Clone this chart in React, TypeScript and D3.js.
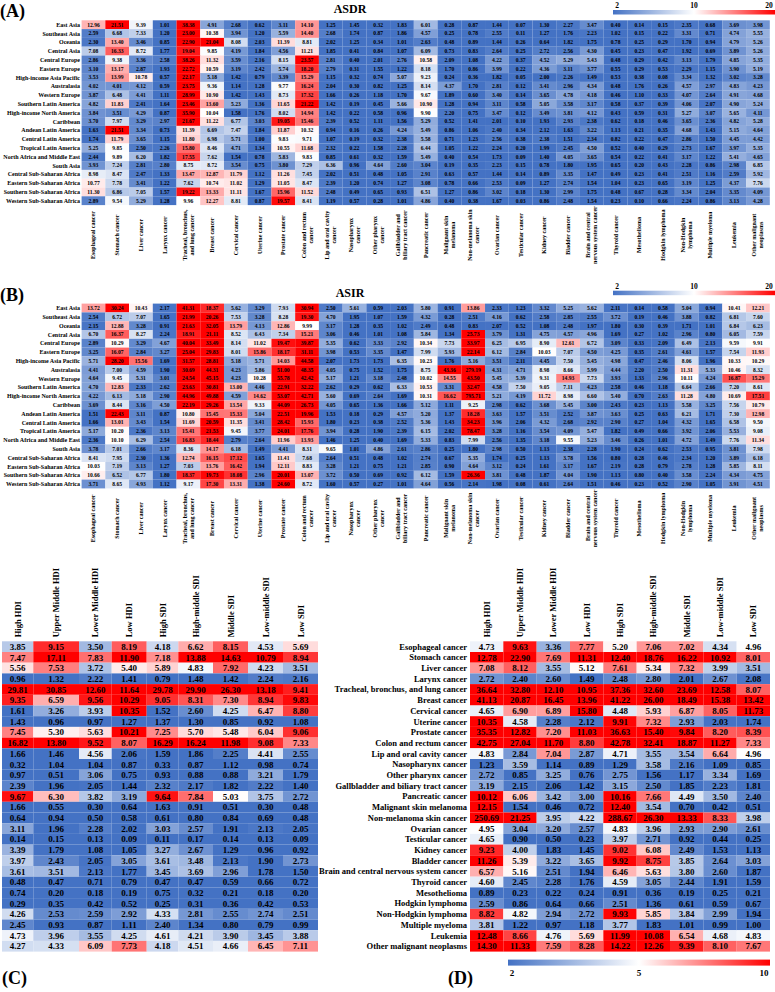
import React from "react";
import * as d3 from "d3";

const regions = ["East Asia","Southeast Asia","Oceania","Central Asia","Central Europe","Eastern Europe","High-income Asia Pacific","Australasia","Western Europe","Southern Latin America","High-income North America","Caribbean","Andean Latin America","Central Latin America","Tropical Latin America","North Africa and Middle East","South Asia","Central Sub-Saharan Africa","Eastern Sub-Saharan Africa","Southern Sub-Saharan Africa","Western Sub-Saharan Africa"];

const cancers = ["Esophageal cancer","Stomach cancer","Liver cancer","Larynx cancer","Tracheal, bronchus, and lung cancer","Breast cancer","Cervical cancer","Uterine cancer","Prostate cancer","Colon and rectum cancer","Lip and oral cavity cancer","Nasopharynx cancer","Other pharynx cancer","Gallbladder and biliary tract cancer","Pancreatic cancer","Malignant skin melanoma","Non-melanoma skin cancer","Ovarian cancer","Testicular cancer","Kidney cancer","Bladder cancer","Brain and central nervous system cancer","Thyroid cancer","Mesothelioma","Hodgkin lymphoma","Non-Hodgkin lymphoma","Multiple myeloma","Leukemia","Other malignant neoplasms"];

const cancerLabelLines = [["Esophageal cancer"],["Stomach cancer"],["Liver cancer"],["Larynx cancer"],["Tracheal, bronchus,","and lung cancer"],["Breast cancer"],["Cervical cancer"],["Uterine cancer"],["Prostate cancer"],["Colon and rectum","cancer"],["Lip and oral cavity","cancer"],["Nasopharynx","cancer"],["Other pharynx","cancer"],["Gallbladder and","biliary tract cancer"],["Pancreatic cancer"],["Malignant skin","melanoma"],["Non-melanoma skin","cancer"],["Ovarian cancer"],["Testicular cancer"],["Kidney cancer"],["Bladder cancer"],["Brain and central","nervous system cancer"],["Thyroid cancer"],["Mesothelioma"],["Hodgkin lymphoma"],["Non-Hodgkin","lymphoma"],["Multiple myeloma"],["Leukemia"],["Other malignant","neoplasms"]];

const groups = ["High HDI","Upper Middle HDI","Lower Middle HDI","Low HDI","High SDI","High-middle SDI","Middle SDI","Low-middle SDI","Low SDI"];

const asdrRegion = [
[12.96,21.51,9.39,1.01,38.38,4.91,2.68,0.62,3.11,14.10,1.25,1.45,0.32,1.83,6.01,0.28,0.87,1.44,0.07,1.30,2.27,3.47,0.40,0.14,0.15,2.35,0.68,3.69,3.98],
[2.59,6.68,7.33,1.20,23.00,10.38,3.94,1.20,5.59,14.40,2.68,1.74,0.87,1.86,4.57,0.25,0.78,2.55,0.11,1.27,1.76,2.23,1.02,0.15,0.22,3.31,0.71,4.74,5.55],
[2.30,13.40,3.46,0.85,22.90,21.04,8.08,2.03,11.39,8.81,2.02,1.25,0.34,1.01,2.63,0.48,0.89,1.44,0.26,0.64,1.82,1.75,0.78,0.25,0.29,1.70,0.94,4.79,5.26],
[7.08,16.33,8.72,1.77,19.04,9.85,4.19,1.84,4.56,11.21,1.85,0.41,0.84,1.07,6.09,0.73,0.83,2.64,0.25,2.72,2.56,4.30,0.45,0.23,0.47,1.92,0.69,3.89,5.26],
[2.86,9.38,3.36,2.58,38.26,11.32,3.59,2.16,8.15,23.57,2.81,0.40,2.01,2.76,10.58,2.09,1.08,4.22,0.37,4.52,5.29,5.43,0.48,0.29,0.42,3.13,1.79,4.85,5.35],
[3.10,13.17,2.87,1.93,22.72,10.59,3.19,2.42,5.74,18.20,2.79,0.31,1.55,1.22,8.18,1.70,0.86,3.99,0.22,4.36,3.11,3.77,0.55,0.29,0.53,2.29,1.15,3.90,5.19],
[3.53,13.99,10.78,0.57,22.17,5.18,1.42,0.79,3.39,15.29,1.15,0.32,0.74,5.07,9.23,0.24,0.36,1.82,0.05,2.00,2.26,1.49,0.53,0.38,0.08,3.34,1.32,3.02,3.28],
[4.02,4.01,4.12,0.59,23.75,9.36,1.14,1.28,9.77,16.24,2.04,0.30,0.82,1.25,8.14,4.37,1.70,2.81,0.12,3.41,2.96,4.34,0.48,1.76,0.26,4.57,2.97,4.83,4.23],
[3.87,6.48,4.41,1.11,28.99,10.90,1.42,1.43,8.73,17.32,1.66,0.26,1.18,1.70,9.67,1.89,0.60,3.40,0.14,3.65,4.78,4.18,0.46,1.10,0.33,4.07,2.64,4.91,4.68],
[4.82,11.83,2.41,1.64,23.46,13.60,5.23,1.36,11.65,21.22,1.42,0.19,0.45,5.66,10.90,1.28,0.94,3.11,0.58,5.05,3.58,3.17,0.58,0.37,0.39,4.06,2.07,4.90,5.24],
[3.84,3.51,4.29,0.87,35.90,10.04,1.58,1.76,8.02,14.94,1.42,0.22,0.58,0.96,9.90,2.20,0.75,3.47,0.12,3.49,3.81,4.12,0.43,0.59,0.31,5.27,3.07,5.65,4.11],
[3.70,7.97,3.29,2.97,21.67,11.22,6.77,3.03,19.05,15.46,2.39,0.52,1.11,1.56,5.29,0.52,1.41,2.01,0.10,1.93,2.93,2.38,0.62,0.18,0.46,3.65,2.36,4.82,5.28],
[1.63,21.51,3.34,0.73,11.39,6.69,7.47,1.84,11.87,10.32,0.94,0.16,0.26,4.24,5.49,0.86,1.06,2.40,0.34,2.12,1.63,3.22,1.13,0.21,0.35,4.68,1.43,5.15,4.64],
[1.74,11.79,3.65,1.15,11.80,6.98,5.71,1.00,9.83,9.71,1.07,0.19,0.32,2.38,5.58,0.71,1.23,2.56,0.38,2.38,1.51,2.34,0.82,0.22,0.47,2.86,1.50,4.45,4.42],
[5.25,9.85,2.50,2.26,15.80,8.46,4.71,1.34,10.55,11.68,2.32,0.22,1.58,2.28,6.44,1.05,1.22,2.24,0.20,1.99,2.45,4.50,0.52,0.40,0.29,2.73,1.67,3.97,5.35],
[2.44,9.89,6.20,1.82,17.55,7.62,1.54,0.78,5.83,9.83,0.85,0.61,0.32,1.59,5.49,0.40,0.54,1.73,0.09,1.40,4.05,3.65,0.54,0.22,0.41,3.17,1.22,5.41,4.65],
[3.93,7.24,2.81,2.80,8.75,8.72,3.54,0.75,3.80,7.29,6.36,0.96,4.64,2.60,3.04,0.19,0.35,2.23,0.15,0.78,1.80,1.95,0.65,0.20,0.43,2.28,0.86,2.98,6.85],
[8.98,8.47,2.47,1.33,13.47,12.87,11.79,1.12,11.26,7.45,2.02,0.51,0.48,1.05,2.91,0.63,0.57,1.44,0.14,0.89,3.35,1.47,0.49,0.23,0.41,2.51,1.16,2.59,5.92],
[10.77,7.78,3.41,1.22,7.62,10.74,11.02,1.29,11.05,8.47,2.39,1.20,0.74,1.27,3.08,0.78,0.66,2.53,0.09,1.27,2.74,1.54,1.04,0.23,0.65,3.19,1.25,4.37,7.76],
[11.30,6.86,7.05,1.57,19.22,13.33,11.11,1.67,15.96,11.52,2.48,0.49,0.65,0.93,6.51,1.27,0.86,3.02,0.18,1.30,2.99,1.75,0.48,0.67,0.28,3.34,2.04,3.35,4.09],
[2.89,9.54,5.29,1.28,9.96,12.27,8.81,0.87,19.57,8.41,1.19,0.57,0.28,1.01,4.86,0.40,0.38,1.67,0.03,0.86,2.48,1.54,0.23,0.10,0.66,2.24,0.86,3.13,4.28]
];

const asirRegion = [
[13.72,30.24,10.43,2.17,41.31,18.37,5.62,3.29,7.93,30.94,2.50,5.61,0.59,2.03,5.80,0.91,13.86,2.33,1.23,3.32,5.25,5.62,2.11,0.14,0.58,5.04,0.94,10.41,12.21],
[2.54,6.72,7.07,1.65,21.99,20.26,7.53,3.28,8.28,19.30,4.70,1.95,1.07,1.59,4.32,0.28,2.51,4.16,0.62,2.58,2.85,2.55,3.72,0.19,0.46,3.88,0.82,6.81,7.60],
[2.15,12.88,3.28,0.91,21.63,32.05,13.79,4.13,12.86,9.99,3.17,1.28,0.35,1.02,2.49,0.48,0.83,2.07,0.52,1.08,2.48,1.97,1.80,0.30,0.39,1.71,1.01,6.84,6.23],
[6.70,16.37,8.27,2.24,18.91,21.11,8.52,6.43,7.34,15.21,3.06,0.46,1.01,1.08,5.84,1.34,25.73,3.79,1.31,4.75,4.57,4.96,1.69,0.27,1.02,2.96,0.80,6.05,7.59],
[2.89,10.29,3.29,4.67,40.04,33.49,8.14,11.02,19.47,39.87,5.35,0.62,3.33,2.92,10.34,7.73,33.97,6.25,6.95,8.90,12.61,6.72,3.09,0.33,2.09,6.49,2.13,9.59,9.91],
[3.25,16.07,2.84,3.27,25.04,29.83,8.01,15.86,18.17,31.11,3.98,0.53,3.35,1.47,7.99,5.93,22.14,6.12,2.84,10.03,7.07,4.50,4.25,0.35,2.61,4.61,1.57,7.54,11.93],
[5.71,28.20,15.56,1.69,31.57,28.81,5.18,5.71,14.03,44.58,2.07,1.73,1.73,6.35,10.23,1.76,5.16,3.51,2.11,4.45,7.50,5.45,4.98,0.47,2.46,8.06,1.96,10.33,10.29],
[4.41,7.00,4.59,1.90,30.69,44.31,4.23,5.86,51.00,48.35,4.05,0.75,1.52,1.75,8.75,43.36,279.19,4.31,4.71,8.98,8.66,5.99,4.44,2.20,2.50,11.31,5.33,10.46,8.32],
[4.64,9.45,5.31,3.01,24.54,45.15,4.23,10.28,55.78,42.42,5.17,1.21,3.18,2.48,10.02,14.55,43.50,5.45,5.39,9.31,14.93,7.73,3.93,1.33,2.96,10.11,4.24,16.87,15.29],
[4.70,12.83,2.33,2.62,23.63,30.81,13.00,4.46,22.91,32.22,2.62,0.29,0.62,6.33,10.53,3.31,32.47,4.58,7.50,9.05,7.11,4.23,2.58,0.46,1.18,6.64,2.66,7.20,8.61],
[4.22,6.13,5.18,2.90,44.96,49.88,4.59,14.62,53.07,42.71,5.60,0.69,2.64,1.69,10.31,16.62,795.71,5.21,4.19,11.72,8.98,6.60,5.40,0.70,2.63,11.28,4.80,10.69,17.51],
[3.69,8.44,3.16,4.50,22.19,29.26,13.54,9.33,44.09,26.73,4.05,0.65,1.36,1.66,5.12,1.11,9.25,2.98,0.62,3.68,5.45,3.00,2.43,0.23,1.13,5.58,3.25,7.56,10.79],
[1.51,22.43,3.11,0.87,10.80,15.45,15.33,5.04,22.51,19.96,1.53,0.18,0.29,4.57,5.20,1.37,18.28,3.63,1.57,3.51,2.52,3.87,3.63,0.25,0.63,6.21,1.71,7.30,12.98],
[1.66,13.01,3.43,1.54,11.69,20.59,11.35,3.41,28.42,15.93,1.80,0.23,0.38,2.52,5.36,1.43,34.23,3.96,2.06,4.32,2.68,2.92,2.90,0.27,1.04,4.32,1.65,6.58,9.50],
[5.17,10.20,2.36,3.13,15.41,21.53,9.45,3.77,24.01,17.76,3.94,0.28,1.90,2.39,6.15,2.02,78.47,3.28,1.16,3.54,4.09,5.47,1.82,0.49,0.66,3.92,2.06,5.53,9.08],
[2.36,10.10,6.29,2.54,16.83,18.44,2.79,2.64,11.96,13.93,1.46,1.25,0.40,1.69,5.33,0.83,7.99,2.56,1.35,3.18,9.55,5.23,3.46,0.26,1.01,4.72,1.49,7.76,11.34],
[3.78,7.01,2.66,3.17,8.36,14.17,6.18,1.49,4.41,8.31,9.65,1.01,4.86,2.61,2.86,0.25,1.80,2.98,0.50,1.13,2.38,2.28,1.90,0.24,0.62,2.53,0.95,3.81,7.98],
[8.41,7.95,2.30,1.36,12.74,16.15,17.12,1.65,11.41,7.68,2.64,0.51,0.48,1.02,2.74,0.67,5.35,1.74,0.25,1.13,3.78,1.56,0.80,0.28,0.46,2.34,1.20,3.89,6.18],
[10.03,7.19,3.13,1.27,7.03,13.76,16.42,1.94,12.11,8.83,3.28,1.21,0.75,1.21,2.85,0.90,4.64,3.12,0.24,1.61,3.17,1.67,2.19,0.28,0.79,2.78,1.28,5.85,8.11],
[10.66,6.52,6.77,1.80,18.37,19.73,18.08,2.96,20.01,13.07,3.72,0.50,0.69,0.92,6.12,1.59,26.36,3.81,0.48,1.87,4.04,1.90,1.13,0.80,0.40,3.58,2.24,4.34,4.75],
[3.71,8.65,4.93,1.12,9.17,17.30,13.31,1.38,24.60,8.72,1.60,0.57,0.27,1.01,4.64,0.56,2.14,1.98,0.08,0.61,2.64,1.51,0.46,0.23,0.52,2.90,1.05,3.91,4.51]
];

const asdrGroup = [
[3.85,9.15,3.50,8.19,4.18,6.62,8.15,4.53,5.69],
[7.47,17.11,7.83,11.90,7.18,13.88,14.63,10.79,8.94],
[5.56,7.53,3.72,5.40,5.89,4.83,7.92,4.23,3.51],
[0.96,1.32,2.22,1.41,0.79,1.48,1.42,2.24,2.16],
[29.81,30.85,12.60,11.64,29.78,29.90,26.30,13.18,9.41],
[9.35,6.59,9.56,10.29,9.05,8.31,7.30,8.94,9.83],
[1.61,3.26,3.93,10.35,1.52,2.60,4.25,6.47,8.80],
[1.43,0.96,0.97,1.27,1.37,1.30,0.85,0.92,1.08],
[7.45,5.30,5.63,10.21,7.25,5.70,5.48,6.04,9.06],
[16.82,13.80,9.52,8.07,16.29,16.24,11.98,9.08,7.33],
[1.66,1.46,4.56,2.06,1.59,1.86,2.25,4.41,2.55],
[0.32,1.04,1.04,0.87,0.33,0.87,1.12,0.98,0.74],
[0.97,0.51,3.06,0.75,0.93,0.88,0.88,3.21,1.79],
[2.39,1.96,2.05,1.44,2.32,2.17,1.82,2.22,1.40],
[9.67,6.30,3.82,3.19,9.64,7.84,5.03,3.75,2.72],
[1.66,0.55,0.30,0.64,1.63,0.91,0.51,0.30,0.48],
[0.64,0.94,0.50,0.58,0.61,0.80,0.84,0.69,0.48],
[3.11,1.96,2.28,2.02,3.03,2.57,1.91,2.13,2.05],
[0.14,0.15,0.13,0.09,0.11,0.17,0.14,0.13,0.09],
[3.39,1.79,1.08,1.05,3.27,2.67,1.29,0.96,0.92],
[3.97,2.43,2.05,3.05,3.61,3.48,2.13,1.90,2.73],
[3.61,3.51,2.13,1.77,3.45,3.69,2.96,1.78,1.50],
[0.48,0.47,0.71,0.79,0.47,0.47,0.59,0.66,0.72],
[0.74,0.20,0.18,0.19,0.75,0.32,0.21,0.18,0.20],
[0.29,0.35,0.42,0.52,0.25,0.31,0.36,0.42,0.53],
[4.26,2.53,2.59,2.92,4.33,2.81,2.55,2.74,2.51],
[2.45,0.93,0.87,1.11,2.40,1.34,0.80,0.79,0.99],
[4.73,3.96,3.55,4.25,4.61,4.21,3.90,3.45,3.88],
[4.27,4.33,6.09,7.73,4.18,4.51,4.66,6.45,7.11]
];

const asirGroup = [
[4.73,9.63,3.36,7.77,5.20,7.06,7.02,4.34,4.96],
[12.78,22.90,7.69,11.31,12.40,18.76,16.22,10.92,8.01],
[7.08,8.12,3.55,5.12,7.61,5.34,7.32,3.99,3.51],
[2.72,2.40,2.60,1.49,2.48,2.80,2.01,2.67,2.08],
[36.64,32.80,12.10,10.95,37.36,32.60,23.69,12.58,8.07],
[41.13,20.87,16.45,13.96,41.22,26.00,18.49,15.38,13.42],
[4.65,6.90,6.89,15.80,4.48,5.93,6.87,8.05,11.73],
[10.35,4.58,2.28,2.12,9.91,7.32,2.93,2.03,1.74],
[35.35,12.82,7.20,11.03,36.63,15.40,9.84,8.20,8.39],
[42.75,27.04,11.70,8.80,42.78,32.41,18.87,11.27,7.33],
[4.83,2.84,7.04,2.87,4.71,3.55,3.54,6.64,4.96],
[1.23,3.59,1.14,0.89,1.29,3.58,2.16,1.09,0.85],
[2.72,0.85,3.25,0.76,2.75,1.56,1.17,3.34,1.69],
[3.19,2.15,2.06,1.42,3.15,2.50,1.85,2.23,1.81],
[10.12,6.06,3.42,3.00,10.16,7.66,4.49,3.50,2.40],
[12.15,1.54,0.46,0.72,12.40,3.54,0.70,0.42,0.51],
[250.69,21.25,3.95,4.22,288.67,26.30,13.33,8.33,3.98],
[4.95,3.04,3.20,2.57,4.83,3.96,2.93,2.90,2.61],
[4.65,0.90,0.50,0.23,3.97,2.71,0.92,0.44,0.25],
[9.23,4.00,1.83,1.45,9.02,6.08,2.49,1.53,1.13],
[11.26,5.39,3.22,3.65,9.92,8.75,3.85,2.64,3.03],
[6.57,5.16,2.51,1.94,6.46,5.63,3.80,2.60,1.87],
[4.60,2.45,2.28,1.76,4.59,3.05,2.44,1.91,1.59],
[0.89,0.23,0.22,0.24,0.91,0.36,0.19,0.25,0.21],
[2.59,0.86,0.64,0.66,2.51,1.36,0.61,0.59,0.67],
[8.82,4.82,2.94,2.72,9.93,5.85,3.84,2.99,1.94],
[3.81,1.22,0.97,1.18,3.77,1.83,1.01,0.99,1.00],
[12.48,8.66,4.76,5.69,11.99,10.08,6.54,4.68,4.83],
[14.30,11.33,7.59,8.28,14.22,12.26,9.39,8.10,7.67]
];

const ticksAB = [2, 10, 20];
const ticksCD = [2, 5, 10];

const FONT = "'Liberation Serif', 'Times New Roman', serif";
const BLUE = "#4472C4";
const RED = "#FF0000";

const colorAB = d3.scaleLinear<string>().domain(ticksAB).range([BLUE, "#FFFFFF", RED]).clamp(true);
const colorCD = d3.scaleLinear<string>().domain(ticksCD).range([BLUE, "#FFFFFF", RED]).clamp(true);

function Grid({ data, x, y, color, fs }) {
  return (
    <g>
      {data.map((row, i) =>
        row.map((v, j) => {
          const x0 = x(j), x1 = x(j + 1);
          return (
            <g key={i + "-" + j}>
              <rect x={x0} y={y(i)} width={x1 - x0} height={y.bandwidth()} fill={color(v)} />
              <text x={(x0 + x1) / 2} y={y(i) + y.bandwidth() / 2} dy="0.35em" textAnchor="middle"
                fontSize={fs} fontWeight="bold" fontFamily={FONT} fill="#000">{v.toFixed(2)}</text>
            </g>
          );
        })
      )}
    </g>
  );
}

function ColorBar({ id, x0, x1, y, h, scale, ticks, fs, labelY }) {
  const pos = d3.scaleLinear().domain([0, ticks.length - 1]).range([x0, x1]);
  return (
    <g>
      <defs>
        <linearGradient id={id} x1="0" x2="1" y1="0" y2="0">
          {ticks.map((t, i) => (
            <stop key={i} offset={i / (ticks.length - 1)} stopColor={scale(t)} />
          ))}
        </linearGradient>
      </defs>
      <rect x={x0} y={y} width={x1 - x0} height={h} fill={`url(#${id})`} />
      {ticks.map((t, i) => (
        <text key={i} x={pos(i) + (i === 0 ? 4 : i === ticks.length - 1 ? -6 : 0)} y={labelY} textAnchor="middle"
          fontSize={fs} fontWeight="bold" fontFamily={FONT}>{t}</text>
      ))}
    </g>
  );
}

function RegionPanel({ data, top, title, tag, gid, barY }) {
  const x = d3.scaleLinear().domain([0, cancers.length]).range([81.6, 769.8]);
  const y = d3.scaleBand().domain(d3.range(regions.length)).range([top, top + regions.length * 8.8]);
  const bottom = top + regions.length * 8.8;
  return (
    <g>
      <text x={0} y={top - 3} fontSize={18} fontWeight="bold" fontFamily={FONT}>{tag}</text>
      <text x={350} y={top - 7} textAnchor="middle" fontSize={12} fontWeight="bold" fontFamily={FONT}>{title}</text>
      <ColorBar id={gid} x0={613} x1={775} y={barY} h={4.5} scale={colorAB} ticks={ticksAB} fs={7.5} labelY={barY - 2} />
      {regions.map((r, i) => (
        <text key={r} x={80} y={y(i) + y.bandwidth() / 2} dy="0.35em" textAnchor="end" fontSize={6}
          fontWeight="bold" fontFamily={FONT}>{r}</text>
      ))}
      <Grid data={data} x={x} y={y} color={colorAB} fs={5.6} />
      {cancerLabelLines.map((lines, j) => {
        const cx = (x(j) + x(j + 1)) / 2;
        const cy = bottom + 30;
        return (
          <text key={j} transform={`translate(${cx},${cy}) rotate(-90)`} textAnchor="middle" fontSize={6}
            fontWeight="bold" fontFamily={FONT}>
            {lines.map((l, k) => (
              <tspan key={k} x={0} y={(k - (lines.length - 1) / 2) * 7 + 2}>{l}</tspan>
            ))}
          </text>
        );
      })}
    </g>
  );
}

const cEdges = [2, 33.3, 79, 111.7, 146.7, 178.3, 213, 248, 283, 318];

export default function App() {
  const rowTop = 641.3;
  const rowH = 10.7;
  const yG = d3.scaleBand().domain(d3.range(cancers.length)).range([rowTop, rowTop + cancers.length * rowH]);
  const xC = d3.scaleLinear().domain(d3.range(cEdges.length)).range(cEdges);
  const xD = d3.scaleLinear().domain([0, groups.length]).range([470, 770]);
  const gBottom = rowTop + cancers.length * rowH;
  return (
    <svg width={775} height={992} style={{ position: "absolute", left: 0, top: 0, background: "#fff" }}>
      <rect width={775} height={992} fill="#fff" />
      <RegionPanel data={asdrRegion} top={20.3} title="ASDR" tag="(A)" gid="gA" barY={10} />
      <RegionPanel data={asirRegion} top={303.6} title="ASIR" tag="(B)" gid="gB" barY={290.7} />

      {groups.map((g, j) => (
        <text key={"c" + j} transform={`translate(${(xC(j) + xC(j + 1)) / 2 + 3},${rowTop - 4}) rotate(-90)`}
          fontSize={8.5} fontWeight="bold" fontFamily={FONT}>{g}</text>
      ))}
      <Grid data={asdrGroup} x={xC} y={yG} color={colorCD} fs={9} />

      {groups.map((g, j) => (
        <text key={"d" + j} transform={`translate(${(xD(j) + xD(j + 1)) / 2 + 3},${rowTop - 4}) rotate(-90)`}
          fontSize={8.5} fontWeight="bold" fontFamily={FONT}>{g}</text>
      ))}
      {cancers.map((c, i) => (
        <text key={c} x={467} y={yG(i) + rowH / 2} dy="0.35em" textAnchor="end" fontSize={8.5}
          fontWeight="bold" fontFamily={FONT}>{c}</text>
      ))}
      <Grid data={asirGroup} x={xD} y={yG} color={colorCD} fs={9} />

      <text x={2} y={gBottom + 32} fontSize={18} fontWeight="bold" fontFamily={FONT}>(C)</text>
      <text x={448} y={gBottom + 32} fontSize={18} fontWeight="bold" fontFamily={FONT}>(D)</text>
      <ColorBar id="gD" x0={508} x1={770} y={gBottom + 8} h={6} scale={colorCD} ticks={ticksCD} fs={9} labelY={gBottom + 24} />
    </svg>
  );
}
